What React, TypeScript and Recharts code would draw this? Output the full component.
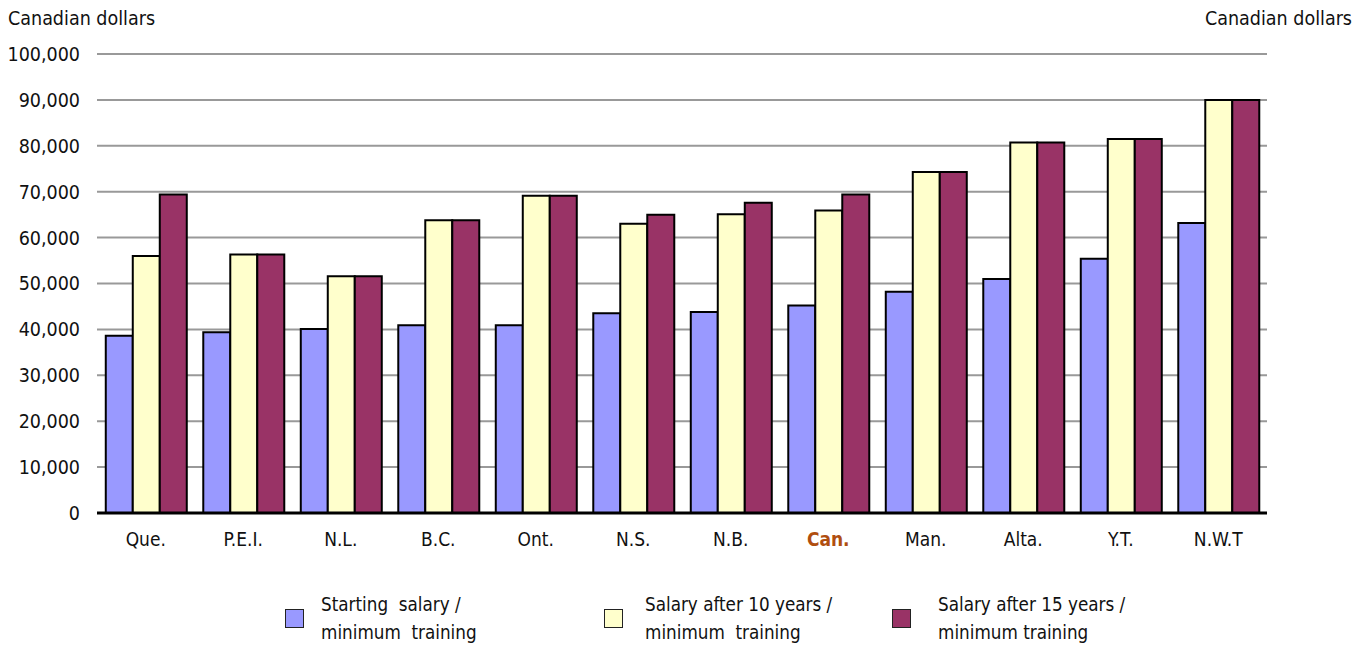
import React from "react";
import { Bar, BarChart, CartesianGrid, XAxis, YAxis } from "recharts";

const categories = ["Que.", "P.E.I.", "N.L.", "B.C.", "Ont.", "N.S.", "N.B.", "Can.", "Man.", "Alta.", "Y.T.", "N.W.T"];
const starting = [38600, 39400, 40100, 40900, 40900, 43500, 43800, 45200, 48200, 51000, 55400, 63200];
const after10 = [56000, 56300, 51600, 63800, 69100, 63000, 65100, 65900, 74300, 80700, 81500, 90000];
const after15 = [69400, 56300, 51600, 63800, 69100, 65000, 67600, 69400, 74300, 80700, 81500, 90000];
const yTicks = [0, 10000, 20000, 30000, 40000, 50000, 60000, 70000, 80000, 90000, 100000];

const series = [
  { key: "starting", color: "#9999ff", label: ["Starting  salary /", "minimum  training"] },
  { key: "after10", color: "#ffffcc", label: ["Salary after 10 years /", "minimum  training"] },
  { key: "after15", color: "#993366", label: ["Salary after 15 years /", "minimum training"] },
];

const data = categories.map((name, i) => ({
  name,
  starting: starting[i],
  after10: after10[i],
  after15: after15[i],
}));

const FONT = "'Liberation Sans Narrow', 'Arial Narrow', 'DejaVu Sans Condensed', sans-serif";
const fmt = (v: number) => v.toLocaleString("en-US");

function XTick({ x, y, payload }: any) {
  const national = payload.value === "Can.";
  return (
    <text
      x={x}
      y={y + 31}
      textAnchor="middle"
      fontFamily={FONT}
      fontSize={19}
      fontWeight={national ? "bold" : "normal"}
      fill={national ? "#b04e10" : "#111"}
    >
      {payload.value}
    </text>
  );
}

function RightTick({ x, y, payload }: any) {
  return (
    <text x={x + 85} y={y} dy="0.36em" textAnchor="end" fontFamily={FONT} fontSize={19.5} fill="#111">
      {fmt(payload.value)}
    </text>
  );
}

// legend sits under the chart, three swatches with two-line captions
const swatchX = [285, 604, 892];
const captionX = [321, 645, 938];

export default function App() {
  return (
    <div style={{ position: "absolute", left: 0, top: 0, width: 1370, height: 645, background: "#fff", fontFamily: FONT }}>
      <div style={{ position: "absolute", left: 8, top: 7, fontSize: 19.5, color: "#111" }}>Canadian dollars</div>
      <div style={{ position: "absolute", right: 18, top: 7, fontSize: 19.5, color: "#111" }}>Canadian dollars</div>
      <BarChart
        width={1370}
        height={645}
        data={data}
        margin={{ top: 54, right: 0, bottom: 102, left: 0 }}
        barCategoryGap="9%"
        barGap={0}
      >
        <CartesianGrid vertical={false} stroke="#999" strokeWidth={2} yAxisId="left" />
        <XAxis
          dataKey="name"
          interval={0}
          height={30}
          tickLine={false}
          tickSize={0}
          tick={<XTick />}
          axisLine={{ stroke: "#000", strokeWidth: 3 }}
        />
        <YAxis
          yAxisId="left"
          width={97}
          domain={[0, 100000]}
          ticks={yTicks}
          interval={0}
          axisLine={false}
          tickLine={false}
          tickSize={0}
          tickMargin={17}
          tickFormatter={fmt}
          tick={{ fill: "#111", fontSize: 19.5, fontFamily: FONT }}
        />
        <YAxis
          yAxisId="right"
          orientation="right"
          width={103}
          domain={[0, 100000]}
          ticks={yTicks}
          interval={0}
          axisLine={false}
          tickLine={false}
          tickSize={0}
          tickMargin={0}
          tick={<RightTick />}
        />
        {series.map((s) => (
          <Bar
            key={s.key}
            yAxisId="left"
            dataKey={s.key}
            fill={s.color}
            stroke="#000"
            strokeWidth={2}
            isAnimationActive={false}
          />
        ))}
      </BarChart>
      {series.map((s, i) => (
        <div key={s.key}>
          <div
            style={{
              position: "absolute",
              left: swatchX[i],
              top: 609,
              width: 17,
              height: 17,
              background: s.color,
              border: "1px solid #222",
            }}
          />
          <div
            style={{
              position: "absolute",
              left: captionX[i],
              top: 591,
              fontSize: 18.7,
              lineHeight: "28px",
              color: "#111",
              whiteSpace: "pre",
            }}
          >
            {s.label[0]}
            <br />
            {s.label[1]}
          </div>
        </div>
      ))}
    </div>
  );
}
